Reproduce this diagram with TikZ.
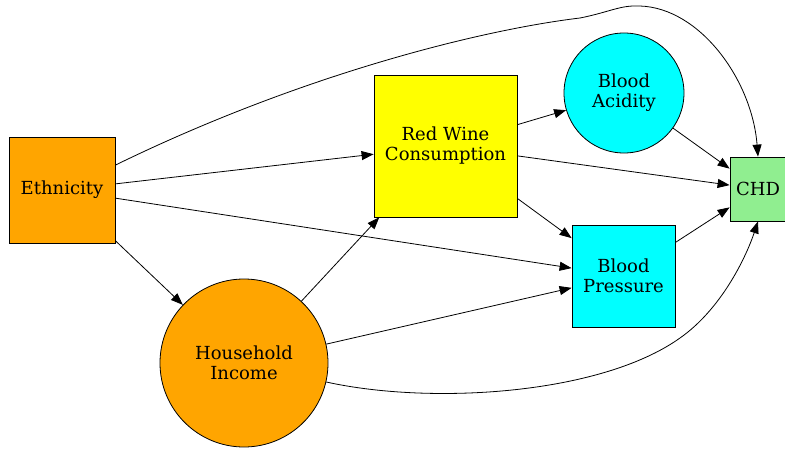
\documentclass[tikz,border=0pt]{standalone}
\usepackage{fontspec}
\setmainfont{DejaVu Serif}
\usetikzlibrary{arrows.meta,shapes.geometric}
\begin{document}
\begin{tikzpicture}[x=1pt,y=1pt,
  base/.style={draw=black,line width=0.8pt,inner sep=0pt,align=center,
    font=\fontsize{18}{20}\selectfont},
  boxnode/.style={base,rectangle},
  roundnode/.style={base,circle},
  edge/.style={line width=0.8pt,-{Triangle[length=12pt,width=9pt]}}]
\useasboundingbox (0,0) rectangle (785,-452);
\node[boxnode,fill={rgb,255:red,255;green,165;blue,0},minimum width=106pt,minimum height=106pt] (eth) at (62,-190) {Ethnicity};
\node[roundnode,fill={rgb,255:red,255;green,165;blue,0},minimum size=168pt] (hi) at (244,-363) {Household\\Income};
\node[boxnode,fill={rgb,255:red,255;green,255;blue,0},minimum width=143pt,minimum height=142pt] (rw) at (445.5,-146) {Red Wine\\Consumption};
\node[roundnode,fill={rgb,255:red,0;green,255;blue,255},minimum size=120pt] (ba) at (624,-93) {Blood\\Acidity};
\node[boxnode,fill={rgb,255:red,0;green,255;blue,255},minimum width=103pt,minimum height=102pt] (bp) at (623.5,-276) {Blood\\Pressure};
\node[boxnode,fill={rgb,255:red,144;green,238;blue,144},minimum width=56pt,minimum height=64pt] (chd) at (758,-189) {CHD};
\draw[edge] (eth) -- (rw);
\draw[edge] (eth) -- (bp);
\draw[edge] (eth) -- (hi);
\draw[edge] (hi) -- (rw);
\draw[edge] (hi) -- (bp);
\draw[edge] (rw) -- (ba);
\draw[edge] (rw) -- (chd);
\draw[edge] (rw) -- (bp);
\draw[edge] (ba) -- (chd);
\draw[edge] (bp) -- (chd);
\draw[edge] (eth.25) .. controls (300,-75) and (480,-30) .. (580,-18)
  .. controls (610,-12) and (620,-5) .. (640,-6)
  .. controls (700,-8) and (752,-80) .. (chd.north);
\draw[edge] (hi.-13) .. controls (430,-405) and (600,-395) .. (680,-338)
  .. controls (720,-310) and (745,-260) .. (chd.south);
\end{tikzpicture}
\end{document}
